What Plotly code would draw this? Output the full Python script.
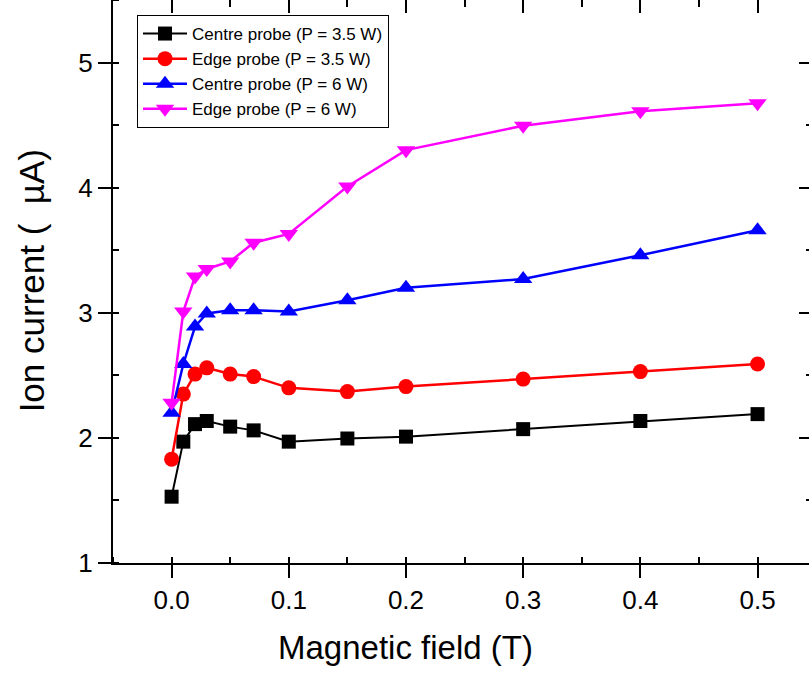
import plotly.graph_objects as go

field = [0, 0.01, 0.02, 0.03, 0.05, 0.07, 0.1, 0.15, 0.2, 0.3, 0.4, 0.5]
centre_35 = [1.53, 1.97, 2.11, 2.135, 2.09, 2.06, 1.97, 1.995, 2.01, 2.07, 2.135, 2.19]
edge_35 = [1.83, 2.35, 2.51, 2.56, 2.51, 2.49, 2.40, 2.37, 2.41, 2.47, 2.53, 2.59]
centre_6 = [2.20, 2.59, 2.89, 2.995, 3.02, 3.02, 3.01, 3.10, 3.20, 3.27, 3.46, 3.66]
edge_6 = [2.28, 3.01, 3.29, 3.35, 3.41, 3.56, 3.63, 4.01, 4.30, 4.495, 4.61, 4.675]

names = ["Centre probe (P = 3.5 W)", "Edge probe (P = 3.5 W)",
         "Centre probe (P = 6 W)", "Edge probe (P = 6 W)"]
colors = ["#000000", "#FF0000", "#0000FF", "#FF00FF"]
symbols = ["square", "circle", "triangle-up", "triangle-down"]
sizes = [14, 15, 16, 16]
widths = [2, 2.5, 2.5, 2.5]
series = [centre_35, edge_35, centre_6, edge_6]

FONT = "Liberation Sans, Arial, sans-serif"

fig = go.Figure()
for n, c, s, sz, w, ys in zip(names, colors, symbols, sizes, widths, series):
    fig.add_trace(go.Scatter(x=field, y=ys, name=n, mode="lines+markers",
                             line=dict(color=c, width=w),
                             marker=dict(color=c, symbol=s, size=sz, line=dict(width=0))))

# invisible trace to activate the mirrored axes
fig.add_trace(go.Scatter(x=[0], y=[1], xaxis="x2", yaxis="y2", mode="markers",
                         marker=dict(opacity=0), showlegend=False, hoverinfo="skip"))

xr = [-0.05, 0.5439]
yr = [1, 5.5]
fig.update_layout(
    width=809, height=679,
    margin=dict(l=113, r=0, t=0, b=116),
    plot_bgcolor="white", paper_bgcolor="white",
    font=dict(family=FONT, color="black"),
    showlegend=True,
    legend=dict(x=(137 - 113) / 696, y=1 - 15 / 563, xanchor="left", yanchor="top",
                bordercolor="black", borderwidth=1, bgcolor="white",
                font=dict(family=FONT, size=17), tracegroupgap=0,
                itemwidth=44),
    xaxis=dict(range=xr, tickmode="linear", tick0=0, dtick=0.1, tickformat=".1f",
               ticks="outside", ticklen=13, tickwidth=2, tickcolor="black",
               showline=True, linewidth=2, linecolor="black", showgrid=False,
               zeroline=False, tickfont=dict(size=26, family=FONT),
               minor=dict(dtick=0.05, tick0=0, ticks="inside", ticklen=6,
                          tickwidth=2, tickcolor="black", showgrid=False)),
    yaxis=dict(range=yr, tickmode="linear", tick0=1, dtick=1,
               ticks="outside", ticklen=13, tickwidth=2, tickcolor="black",
               showline=True, linewidth=2, linecolor="black", showgrid=False,
               zeroline=False, tickfont=dict(size=26, family=FONT),
               minor=dict(dtick=0.5, tick0=1, ticks="inside", ticklen=6,
                          tickwidth=2, tickcolor="black", showgrid=False)),
    xaxis2=dict(range=xr, overlaying="x", side="top", tickmode="linear", tick0=0,
                dtick=0.1, ticks="inside", ticklen=13, tickwidth=2, tickcolor="black",
                showticklabels=False, showline=True, linewidth=2, linecolor="black",
                showgrid=False, zeroline=False,
                minor=dict(dtick=0.05, tick0=0, ticks="inside", ticklen=7,
                           tickwidth=2, tickcolor="black", showgrid=False)),
    yaxis2=dict(range=yr, overlaying="y", side="right", tickmode="linear", tick0=1,
                dtick=1, ticks="inside", ticklen=10, tickwidth=2, tickcolor="black",
                showticklabels=False, showline=False, showgrid=False, zeroline=False,
                minor=dict(dtick=0.5, tick0=1, ticks="inside", ticklen=3,
                           tickwidth=2, tickcolor="black", showgrid=False)),
    annotations=[
        dict(text="Magnetic field (T)", xref="paper", yref="paper",
             x=(405 - 113) / 696, y=-(648 - 563.3) / 563.3, xanchor="center",
             yanchor="middle", showarrow=False, font=dict(size=33, family=FONT)),
        dict(text="Ion current ( \u00a0\u00b5A)", xref="paper", yref="paper",
             x=(31 - 113) / 696, y=1 - 281.5 / 563.3, xanchor="center",
             yanchor="middle", textangle=-90, showarrow=False,
             font=dict(size=35, family=FONT)),
    ],
)

fig.write_html("out.html", config={"displayModeBar": False},
               post_script="document.body.style.margin='0';document.body.style.overflow='hidden';")
